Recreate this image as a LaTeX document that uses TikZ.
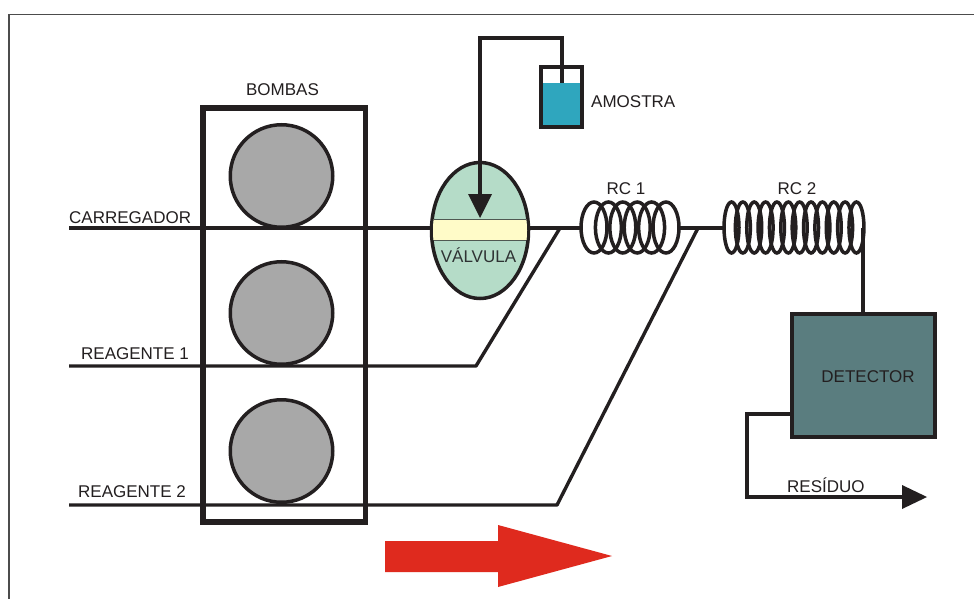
\documentclass[tikz,border=0pt]{standalone}
\usepackage{fontspec}
\setmainfont{Liberation Sans}
\usetikzlibrary{shapes.geometric}
\definecolor{tube}{HTML}{231F20}
\definecolor{valv}{HTML}{B5DCC8}
\definecolor{cream}{HTML}{FFFBC8}
\definecolor{liquid}{HTML}{2FA6BE}
\definecolor{det}{HTML}{5A7D7F}
\definecolor{pump}{HTML}{A8A8A8}
\definecolor{redarrow}{HTML}{DF2A1E}
\tikzset{
 tubeline/.style={draw=tube,line width=3.4pt},
 lbl/.style={font=\fontsize{17}{19}\selectfont,text=tube,inner sep=0pt},
 pumpdisc/.style={circle,draw=tube,line width=3.5pt,fill=pump,minimum size=102.5pt,inner sep=0pt},
 loopa/.style={ellipse,draw=tube,line width=3.5pt,minimum width=26pt,minimum height=51pt,inner sep=0pt},
 loopb/.style={ellipse,draw=tube,line width=3.5pt,minimum width=15pt,minimum height=51pt,inner sep=0pt},
}
\begin{document}
\begin{tikzpicture}[x=1pt,y=-1pt]
\useasboundingbox (0,0) rectangle (974,599);
\fill[white] (0,0) rectangle (974,599);
\draw[draw=black!70,line width=1.2pt] (9,14.5) -- (974,14.5);
\draw[draw=black!70,line width=1.2pt] (9,14.5) -- (9,599);
% pumps
\node[pumpdisc] (p1) at (281.5,176) {};
\node[pumpdisc] (p2) at (281.5,313) {};
\node[pumpdisc] (p3) at (281.5,451) {};
% valve
\node[ellipse,draw=tube,line width=3.5pt,fill=valv,minimum width=97pt,minimum height=136pt,inner sep=0pt] (v) at (480,230.5) {};
\begin{scope}
\clip (480,230.5) ellipse (47 and 66.5);
\fill[cream] (430,219) rectangle (530,240);
\draw[draw=tube!70!valv,line width=1pt] (430,219) -- (530,219) (430,240) -- (530,240);
\end{scope}
\node[lbl,text=tube!80!det] at (478.5,255) {VÁLVULA};
% tubes
\coordinate (c0) at (69,228);
\coordinate (r1) at (69,366);
\coordinate (r2) at (69,505);
\coordinate (k1) at (476,366);
\coordinate (k2) at (557,505);
\coordinate (m1) at (560,228);
\coordinate (m2) at (698,228);
\draw[tubeline] (c0) -- (431,228);
\draw[tubeline] (529,228) -- (582,228);
\draw[tubeline,line join=bevel] (r1) -- (k1) -- (m1);
\draw[tubeline,line join=bevel] (r2) -- (k2) -- (m2);
\draw[tubeline] (678,228) -- (725,228);
% frame
\node[draw=tube,line width=5.5pt,minimum width=162.5pt,minimum height=414pt,inner sep=0pt] (frame) at (284.2,315) {};
\node[lbl] at (282.5,90) {BOMBAS};
\node[lbl,anchor=west] at (69,218) {CARREGADOR};
\node[lbl,anchor=west] at (81,354) {REAGENTE 1};
\node[lbl,anchor=west] at (78,492) {REAGENTE 2};
% sample
\fill[liquid] (541,83) rectangle (582,127);
\draw[draw=tube,line width=3.5pt] (541,67) rectangle (582,127);
\coordinate (s) at (562,83);
\coordinate (tl) at (480,38);
\draw[tubeline,line join=miter] (s) -- (562,38) -- (tl) -- (480,200);
\fill[tube] (468,194) -- (492,194) -- (480,218) -- cycle;
\node[lbl,anchor=west] at (591,102) {AMOSTRA};
% coils
\foreach \i in {0,...,5} \node[loopa] at ({594+\i*14.4},227.5) {};
\foreach \i in {0,...,11} \node[loopb] at ({731.5+\i*11.36},227.5) {};
\node[lbl] at (626,189) {RC 1};
\node[lbl] at (797,189) {RC 2};
% detector
\node[draw=tube,line width=4pt,fill=det,minimum width=143pt,minimum height=123pt,inner sep=0pt] (d) at (863.5,375.5) {};
\draw[tubeline] (863,228) -- (863,312);
\node[lbl] at (868,377) {DETECTOR};
\draw[tubeline,line join=miter] (790,414) -- (747,414) -- (747,497) -- (905,497);
\fill[tube] (902,485) -- (927,497) -- (902,509) -- cycle;
\node[lbl,anchor=west] at (787,485) {RESÍDUO};
% red arrow
\fill[redarrow] (385,541) -- (498,541) -- (498,525) -- (612,556) -- (498,587) -- (498,572) -- (385,572) -- cycle;
\end{tikzpicture}
\end{document}
